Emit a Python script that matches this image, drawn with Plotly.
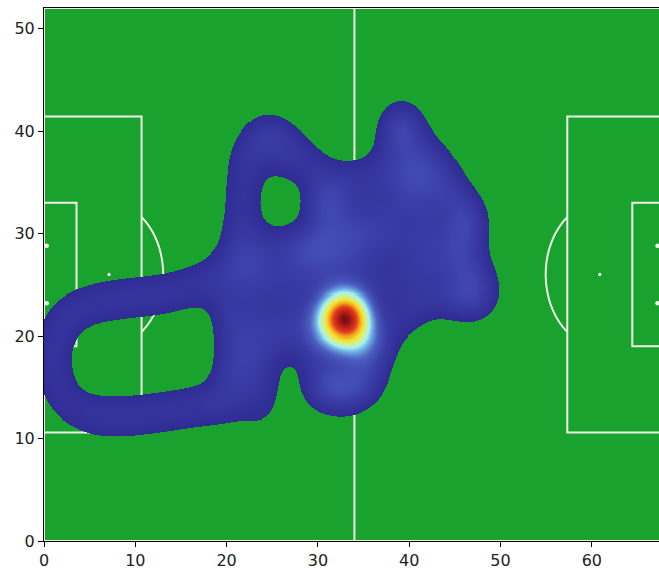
import numpy as np
import plotly.graph_objects as go

# ---- pitch geometry (metres), drawn on a 68 x 52 axis frame ----
PITCH_LEN, PITCH_WID = 105.0, 68.0
AX_LEN, AX_WID = 68.0, 52.0
SX, SY = AX_LEN / PITCH_LEN, AX_WID / PITCH_WID
BOX_DEPTH, BOX_WIDTH = 16.5, 40.32
SIX_DEPTH, SIX_WIDTH = 5.5, 18.32
SPOT_DIST, CIRCLE_R = 11.0, 9.15
GOAL_WIDTH = 7.32

# ---- player touch positions (axis units) as (x, y, weight) ----
loop_touches = [
    (1.3, 15.5, 1), (0.8, 17.5, 1), (1.0, 19.5, 1), (1.8, 21.5, 1),
    (3.5, 22.6, 1), (5.5, 23.2, 1), (7.5, 23.5, 1), (9.5, 23.7, 1),
    (11.5, 23.9, 1), (13.5, 24.1, 1), (15.5, 24.6, 1), (17.5, 25.3, 1),
    (19.5, 26.2, 1),
    (2.3, 13.4, 1), (4.5, 12.4, 1), (6.5, 12.1, 1), (8.5, 12.1, 1),
    (10.5, 12.3, 1), (12.5, 12.5, 1), (14.5, 12.8, 1), (16.5, 13.1, 1),
    (18.5, 13.3, 1), (20.5, 13.5, 1),
    (20.5, 15.5, 1), (20.8, 17.5, 1), (20.8, 19.5, 1), (20.5, 21.5, 1),
    (20.2, 23.5, 1),
]
lower_touches = [
    (23.7, 12.8, 1), (24.0, 15.5, 1), (22.5, 17.0, 1), (23.0, 19.5, 1),
    (23.0, 22.0, 1), (25.0, 19.0, 1), (25.5, 21.5, 1), (27.5, 20.0, 1),
    (28.0, 22.5, 1), (29.5, 19.0, 1), (30.5, 17.0, 1), (30.0, 15.0, 1),
    (32.5, 14.8, 1), (34.5, 15.5, 1), (36.0, 17.5, 1), (37.0, 19.5, 1),
    (35.0, 19.0, 1), (38.5, 21.5, 1), (40.5, 22.5, 1), (42.5, 24.0, 1),
    (44.5, 23.8, 1), (46.5, 23.5, 1), (48.0, 24.0, 1), (47.5, 26.0, 1),
    (45.5, 26.5, 1), (31.0, 14.6, 1), (33.5, 14.4, 1), (35.5, 15.5, 1),
]
upper_touches = [
    (21.5, 26.5, 1), (23.5, 27.0, 1), (23.0, 25.0, 1), (25.5, 25.0, 1),
    (27.5, 25.5, 1), (30.0, 25.0, 1), (31.0, 26.5, 1), (33.0, 27.0, 1),
    (35.0, 26.0, 1), (37.0, 25.0, 1), (39.5, 25.5, 1), (41.5, 26.5, 1),
    (43.5, 28.0, 1), (45.5, 29.5, 1), (46.0, 31.5, 1), (42.0, 32.0, 1),
    (40.0, 33.0, 1), (38.0, 32.5, 1), (36.0, 31.5, 1), (34.0, 31.0, 1),
    (32.0, 31.5, 1), (30.5, 33.0, 1), (32.0, 34.5, 1), (34.0, 35.0, 1),
    (36.0, 35.5, 1), (38.0, 36.0, 1), (40.0, 36.0, 1), (42.0, 36.0, 1),
    (43.5, 34.0, 1), (41.0, 38.5, 1), (38.7, 40.3, 1), (38.5, 38.5, 1),
    (39.3, 41.2, 1),
    (28.0, 28.0, 1), (30.0, 28.8, 1), (32.0, 29.0, 1), (34.0, 29.0, 1),
    (36.0, 29.0, 1), (38.0, 29.5, 1), (40.0, 29.0, 1), (42.0, 29.5, 1),
    (46.0, 28.0, 1), (46.5, 30.5, 1), (46.0, 32.5, 1), (44.5, 34.5, 1),
    (43.0, 37.0, 1),
]
lobe_touches = [
    (21.6, 28.5, 1.35), (21.6, 31.0, 1.35), (21.8, 34.0, 1.35), (22.0, 36.8, 1.2),
    (23.0, 38.8, 1), (25.0, 39.3, 1), (27.0, 38.5, 1), (29.0, 37.0, 1),
    (30.6, 35.0, 1), (30.6, 32.0, 1), (29.8, 29.0, 1), (27.3, 28.6, 1),
    (24.8, 28.8, 1), (26.5, 36.8, 0.7),
]
busy_touches = [
    (40.4, 34.9, 0.9), (46.5, 24.0, 0.8), (24.5, 39.8, 0.8),
    (39.5, 40.0, 0.8), (32.5, 15.5, 0.6),
]
hot_touches = [(33.0, 21.8, 24.0), (31.0, 21.0, 4.0), (34.2, 19.9, 4.0)]

SIGMA = 1.7
THRESHOLD = 1.1

# ---- density grid ----
gx = np.arange(0.0, 67.45, 0.11)
gy = np.arange(0.0, 52.05, 0.1)
X, Y = np.meshgrid(gx, gy)
dens = np.zeros_like(X)
for group in (loop_touches, lower_touches, upper_touches, lobe_touches,
              busy_touches, hot_touches):
    for px, py, w in group:
        dens += w * np.exp(-((X - px) ** 2 + (Y - py) ** 2) / (2 * SIGMA ** 2))
zmax = float(dens.max())
z = np.round(dens, 3).astype(object)
z[dens < THRESHOLD] = None
z = z.tolist()

heat_scale = [
    [0.00, "#2f2b93"],
    [0.08, "#3a3ea6"],
    [0.16, "#4b5ec0"],
    [0.26, "#6fb0e4"],
    [0.34, "#a6f0f2"],
    [0.44, "#d6f08a"],
    [0.55, "#f4e22c"],
    [0.66, "#f4a020"],
    [0.78, "#e0401a"],
    [0.90, "#c0201a"],
    [1.00, "#7a1010"],
]

# ---- pitch markings as shapes beneath the heatmap ----
LINE_COLOR = "#eef6e6"
shapes = []


def poly(xs, ys, closed=False):
    d = "M " + " L ".join(f"{a:.3f},{b:.3f}" for a, b in zip(xs, ys))
    if closed:
        d += " Z"
    shapes.append(dict(type="path", path=d, layer="below",
                       line=dict(color=LINE_COLOR, width=2)))


def dot(x, y, rx, ry):
    shapes.append(dict(type="circle", x0=x - rx, x1=x + rx, y0=y - ry, y1=y + ry,
                       layer="below", fillcolor=LINE_COLOR, line=dict(width=0)))


poly([0, AX_LEN, AX_LEN, 0], [0, 0, AX_WID, AX_WID], closed=True)
poly([AX_LEN / 2, AX_LEN / 2], [0, AX_WID])

cy = PITCH_WID / 2
for side in (0, 1):
    def fx(m):
        return (m if side == 0 else PITCH_LEN - m) * SX

    b0, b1 = (cy - BOX_WIDTH / 2) * SY, (cy + BOX_WIDTH / 2) * SY
    poly([fx(0), fx(BOX_DEPTH), fx(BOX_DEPTH), fx(0)], [b0, b0, b1, b1])
    s0, s1 = (cy - SIX_WIDTH / 2) * SY, (cy + SIX_WIDTH / 2) * SY
    poly([fx(0), fx(SIX_DEPTH), fx(SIX_DEPTH), fx(0)], [s0, s0, s1, s1])
    t = np.linspace(-np.pi / 2, np.pi / 2, 200)
    ax = SPOT_DIST + CIRCLE_R * np.cos(t)
    ay = cy + CIRCLE_R * np.sin(t)
    keep = ax > BOX_DEPTH
    poly([fx(v) for v in ax[keep]], list(ay[keep] * SY))
    dot(fx(SPOT_DIST), cy * SY, 0.18, 0.16)

t = np.linspace(0, 2 * np.pi, 300)
poly(list(AX_LEN / 2 + CIRCLE_R * SX * np.cos(t)),
     list(cy * SY + CIRCLE_R * SY * np.sin(t)), closed=True)
dot(AX_LEN / 2, cy * SY, 0.18, 0.16)

# goal posts
for gxp in (0.3, 67.2):
    for gyp in ((cy - GOAL_WIDTH / 2) * SY, (cy + GOAL_WIDTH / 2) * SY):
        dot(gxp, gyp, 0.25, 0.22)

fig = go.Figure(go.Heatmap(
    x=gx, y=gy, z=z, zmin=THRESHOLD, zmax=zmax,
    colorscale=heat_scale, showscale=False, hoverinfo="skip",
    zsmooth=False))

fig.update_layout(
    width=659, height=577,
    margin=dict(l=44, r=0, t=8, b=36),
    paper_bgcolor="white", plot_bgcolor="#19a22e",
    font=dict(family="DejaVu Sans", size=16, color="#222222"),
    shapes=shapes,
)
fig.update_xaxes(range=[0, 67.36], tickvals=[0, 10, 20, 30, 40, 50, 60],
                 showgrid=False, zeroline=False, showline=True, linecolor="black",
                 linewidth=1, mirror=True, ticks="outside", ticklen=5,
                 tickcolor="black")
fig.update_yaxes(range=[0, 52], tickvals=[0, 10, 20, 30, 40, 50],
                 showgrid=False, zeroline=False, showline=True, linecolor="black",
                 linewidth=1, ticks="outside", ticklen=5, tickcolor="black")

fig.write_html("out.html")
